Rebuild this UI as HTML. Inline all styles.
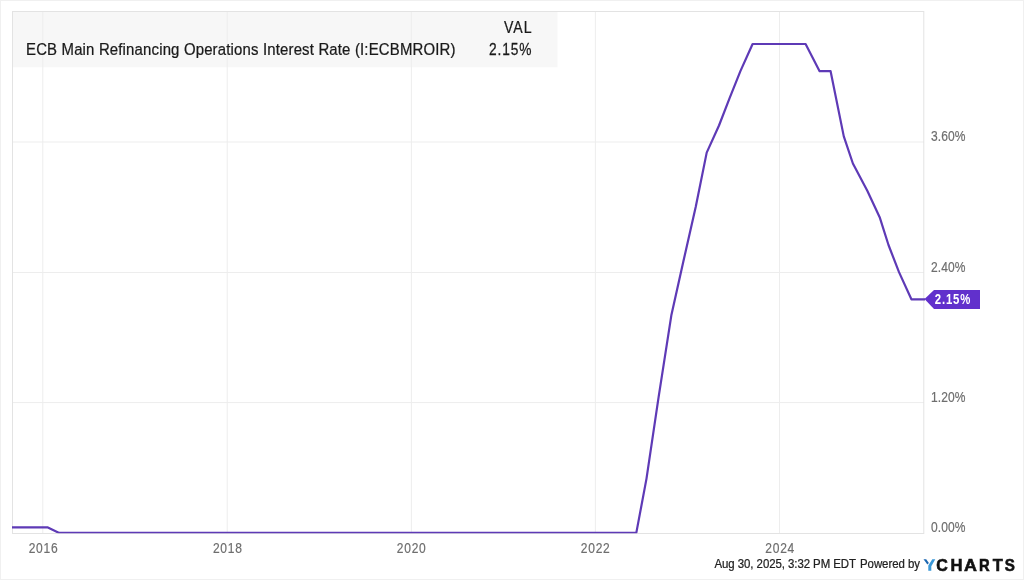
<!DOCTYPE html>
<html><head><meta charset="utf-8"><style>
html,body{margin:0;padding:0;background:#fff;}
body{width:1024px;height:580px;overflow:hidden;position:relative;font-family:"Liberation Sans", sans-serif;}
svg{position:absolute;left:0;top:0;will-change:transform;}
</style></head><body>
<svg width="1024" height="580" viewBox="0 0 1024 580" font-family='"Liberation Sans", sans-serif'>
<rect x="0" y="0" width="1024" height="580" fill="#fff"/>
<rect x="0.5" y="0.5" width="1023" height="579" fill="none" stroke="#f0f0f0" stroke-width="1"/>
<rect x="12" y="12" width="545.5" height="55.3" fill="#f7f7f7"/>
<line x1="42.80" y1="11.5" x2="42.80" y2="533" stroke="#ededed" stroke-width="1"/><line x1="227.20" y1="11.5" x2="227.20" y2="533" stroke="#ededed" stroke-width="1"/><line x1="411.40" y1="11.5" x2="411.40" y2="533" stroke="#ededed" stroke-width="1"/><line x1="595.40" y1="11.5" x2="595.40" y2="533" stroke="#ededed" stroke-width="1"/><line x1="779.50" y1="11.5" x2="779.50" y2="533" stroke="#ededed" stroke-width="1"/><line x1="12" y1="142.0" x2="924" y2="142.0" stroke="#ededed" stroke-width="1"/><line x1="12" y1="272.5" x2="924" y2="272.5" stroke="#ededed" stroke-width="1"/><line x1="12" y1="402.6" x2="924" y2="402.6" stroke="#ededed" stroke-width="1"/>
<rect x="12.5" y="11.5" width="911.3" height="522" fill="none" stroke="#e3e3e3" stroke-width="1"/>
<text transform="translate(26 55) scale(0.9 1)" textLength="477.22" lengthAdjust="spacing" font-size="16.6" fill="#1a1a1a" stroke="#1a1a1a" stroke-width="0.25">ECB Main Refinancing Operations Interest Rate (I:ECBMROIR)</text>
<text transform="translate(504 33.4) scale(0.88 1)" textLength="31.25" lengthAdjust="spacing" font-size="16" fill="#1a1a1a" stroke="#1a1a1a" stroke-width="0.25">VAL</text>
<text transform="translate(489 54.8) scale(0.86 1)" textLength="49.42" lengthAdjust="spacing" font-size="16" fill="#1a1a1a" stroke="#1a1a1a" stroke-width="0.25">2.15%</text>
<defs><clipPath id="pc"><rect x="12" y="0" width="913" height="533.2"/></clipPath></defs>
<path d="M8.0 527.47 L47.9 527.47 L59.2 532.90 L636.3 532.90 L646.5 478.58 L658.6 397.09 L671.3 315.61 L683.4 261.29 L695.7 206.97 L706.7 152.65 L719.0 125.48 L729.5 98.32 L740.4 71.16 L752.6 44.00 L805.6 44.00 L819.6 71.16 L830.6 71.16 L843.8 136.35 L852.9 163.51 L867.3 190.67 L879.9 217.83 L888.5 244.99 L899.0 272.15 L911.4 299.32 L935.0 299.32" fill="none" stroke="#5e3ab6" stroke-width="2.2" stroke-linejoin="round" stroke-linecap="butt" clip-path="url(#pc)"/>
<text transform="translate(931 141) scale(0.86 1)" textLength="40.12" lengthAdjust="spacing" font-size="14" fill="#6e6e6e" stroke="#6e6e6e" stroke-width="0.2">3.60%</text><text transform="translate(931 272) scale(0.86 1)" textLength="40.12" lengthAdjust="spacing" font-size="14" fill="#6e6e6e" stroke="#6e6e6e" stroke-width="0.2">2.40%</text><text transform="translate(931 402) scale(0.86 1)" textLength="40.12" lengthAdjust="spacing" font-size="14" fill="#6e6e6e" stroke="#6e6e6e" stroke-width="0.2">1.20%</text><text transform="translate(931 532.3) scale(0.86 1)" textLength="40.12" lengthAdjust="spacing" font-size="14" fill="#6e6e6e" stroke="#6e6e6e" stroke-width="0.2">0.00%</text>
<text transform="translate(28.7 552.6) scale(0.86 1)" textLength="33.72" lengthAdjust="spacing" font-size="14" fill="#6e6e6e" stroke="#6e6e6e" stroke-width="0.2">2016</text><text transform="translate(212.9 552.6) scale(0.86 1)" textLength="33.72" lengthAdjust="spacing" font-size="14" fill="#6e6e6e" stroke="#6e6e6e" stroke-width="0.2">2018</text><text transform="translate(396.8 552.6) scale(0.86 1)" textLength="33.72" lengthAdjust="spacing" font-size="14" fill="#6e6e6e" stroke="#6e6e6e" stroke-width="0.2">2020</text><text transform="translate(580.8 552.6) scale(0.86 1)" textLength="33.72" lengthAdjust="spacing" font-size="14" fill="#6e6e6e" stroke="#6e6e6e" stroke-width="0.2">2022</text><text transform="translate(765.3 552.6) scale(0.86 1)" textLength="33.72" lengthAdjust="spacing" font-size="14" fill="#6e6e6e" stroke="#6e6e6e" stroke-width="0.2">2024</text>
<path d="M924.5 299 L934 290 L980 290 L980 309 L934 309 Z" fill="#6130cc"/>
<text transform="translate(934.8 303.8) scale(0.8 1)" textLength="44.38" lengthAdjust="spacing" font-size="14.2" font-weight="bold" fill="#fff">2.15%</text>
<text transform="translate(714.5 568.4) scale(0.88 1)" textLength="160.80" lengthAdjust="spacing" font-size="13" fill="#222" stroke="#222" stroke-width="0.25">Aug 30, 2025, 3:32 PM EDT</text>
<text transform="translate(860 568.4) scale(0.88 1)" textLength="68.18" lengthAdjust="spacing" font-size="13" fill="#222" stroke="#222" stroke-width="0.25">Powered by</text>
<path d="M923.5 559.3 L926.2 559.3 L928.9 563.0 L927.4 564.6 Z" fill="#1b66b0"/>
<path d="M932.3 559.2 L935.3 559.2 L931.3 566.3 L931.3 570.8 L928.3 570.8 L928.3 565.6 Z" fill="#3a98d8"/>
<text transform="matrix(0.08015 0 0 0.08406 936.159 570.7)" font-size="200" font-weight="bold" fill="#111" stroke="#111" stroke-width="7">C</text><text transform="matrix(0.08305 0 0 0.08406 950.620 570.7)" font-size="200" font-weight="bold" fill="#111" stroke="#111" stroke-width="7">H</text><text transform="matrix(0.08955 0 0 0.08406 963.952 570.7)" font-size="200" font-weight="bold" fill="#111" stroke="#111" stroke-width="7">A</text><text transform="matrix(0.07402 0 0 0.08406 978.938 570.7)" font-size="200" font-weight="bold" fill="#111" stroke="#111" stroke-width="7">R</text><text transform="matrix(0.08220 0 0 0.08406 992.636 570.7)" font-size="200" font-weight="bold" fill="#111" stroke="#111" stroke-width="7">T</text><text transform="matrix(0.07583 0 0 0.08406 1004.645 570.7)" font-size="200" font-weight="bold" fill="#111" stroke="#111" stroke-width="7">S</text>
</svg>
</body></html>
